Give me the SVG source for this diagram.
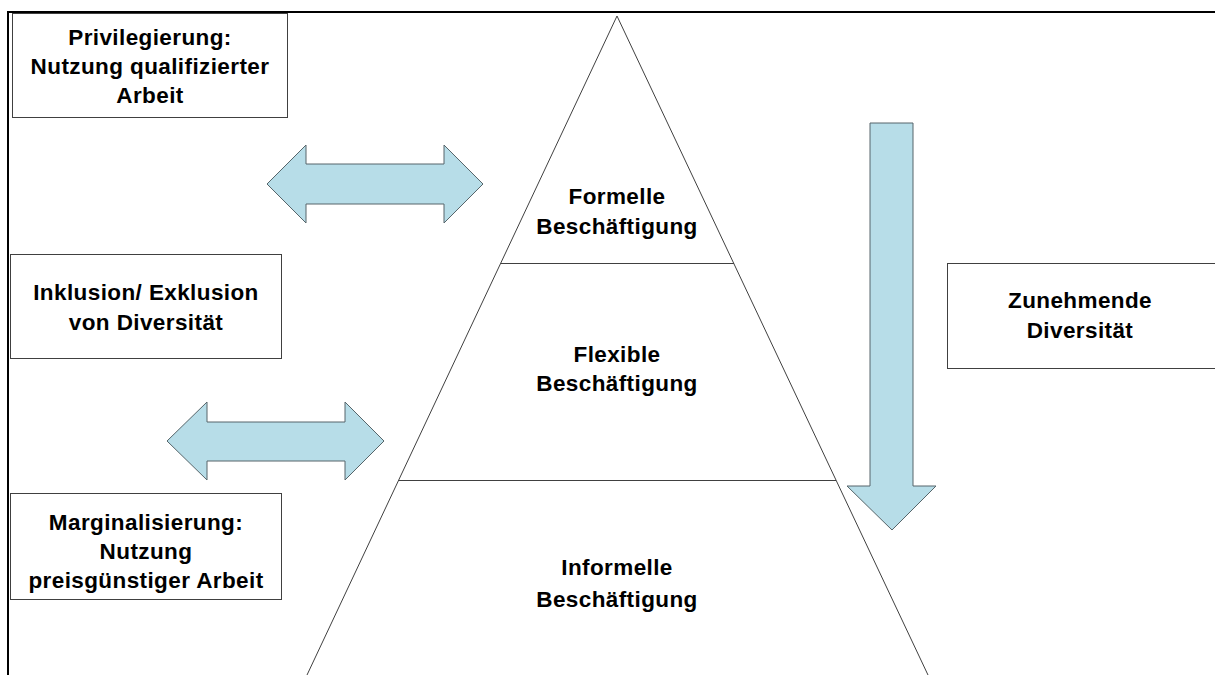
<svg xmlns="http://www.w3.org/2000/svg" width="1215" height="675" viewBox="0 0 1215 675">
  <style>
    .frame { stroke: #000; stroke-width: 2; fill: none; }
    .box { fill: #fff; stroke: #404040; stroke-width: 1; }
    .edge { stroke: #404040; stroke-width: 1; fill: none; }
    .arrow { fill: #b7dde8; stroke: #56656a; stroke-width: 1; stroke-linejoin: miter; }
    .lbl { font-family: "Liberation Sans", Arial, sans-serif; font-weight: bold; font-size: 22.5px; letter-spacing: 0.4px; fill: #000; text-anchor: middle; }
  </style>
  <rect x="0" y="0" width="1215" height="675" fill="#fff"/>

  <!-- page frame -->
  <path class="frame" d="M8 675 V12 H1215"/>

  <!-- left boxes -->
  <g id="privilegierung">
    <rect class="box" x="12.5" y="13.5" width="275" height="104"/>
    <text class="lbl" x="150" y="45">Privilegierung:</text>
    <text class="lbl" x="150" y="74">Nutzung qualifizierter</text>
    <text class="lbl" x="150" y="103">Arbeit</text>
  </g>

  <g id="inklusion">
    <rect class="box" x="10.5" y="254.5" width="271" height="104"/>
    <text class="lbl" x="146" y="300">Inklusion/ Exklusion</text>
    <text class="lbl" x="146" y="330">von Diversität</text>
  </g>

  <g id="marginalisierung">
    <rect class="box" x="10.5" y="493.5" width="271" height="106"/>
    <text class="lbl" x="146" y="530">Marginalisierung:</text>
    <text class="lbl" x="146" y="559">Nutzung</text>
    <text class="lbl" x="146" y="588">preisgünstiger Arbeit</text>
  </g>

  <!-- right box -->
  <g id="zunehmende-diversitaet">
    <rect class="box" x="947.5" y="263.5" width="280" height="105"/>
    <text class="lbl" x="1080" y="308">Zunehmende</text>
    <text class="lbl" x="1080" y="338">Diversität</text>
  </g>

  <!-- pyramid -->
  <g id="pyramide">
    <path class="edge" d="M307 675 L617 16 L928 675"/>
  </g>
  <g id="formelle">
    <line class="edge" x1="501" y1="263.5" x2="734" y2="263.5"/>
    <text class="lbl" x="617" y="204">Formelle</text>
    <text class="lbl" x="617" y="234">Beschäftigung</text>
  </g>
  <g id="flexible">
    <line class="edge" x1="399" y1="480.5" x2="836" y2="480.5"/>
    <text class="lbl" x="617" y="362">Flexible</text>
    <text class="lbl" x="617" y="391">Beschäftigung</text>
  </g>
  <g id="informelle">
    <text class="lbl" x="617" y="575">Informelle</text>
    <text class="lbl" x="617" y="607">Beschäftigung</text>
  </g>

  <!-- block arrows -->
  <g id="connectors">
    <polygon class="arrow" points="267,184 306,145 306,164 444,164 444,145 483,184 444,223 444,204 306,204 306,223"/>
    <polygon class="arrow" points="167,441 207,402 207,422 345,422 345,402 384,441 345,480 345,461 207,461 207,480"/>
    <polygon class="arrow" points="870,123 913,123 913,486 936,486 892,530 847,486 870,486"/>
  </g>
</svg>
